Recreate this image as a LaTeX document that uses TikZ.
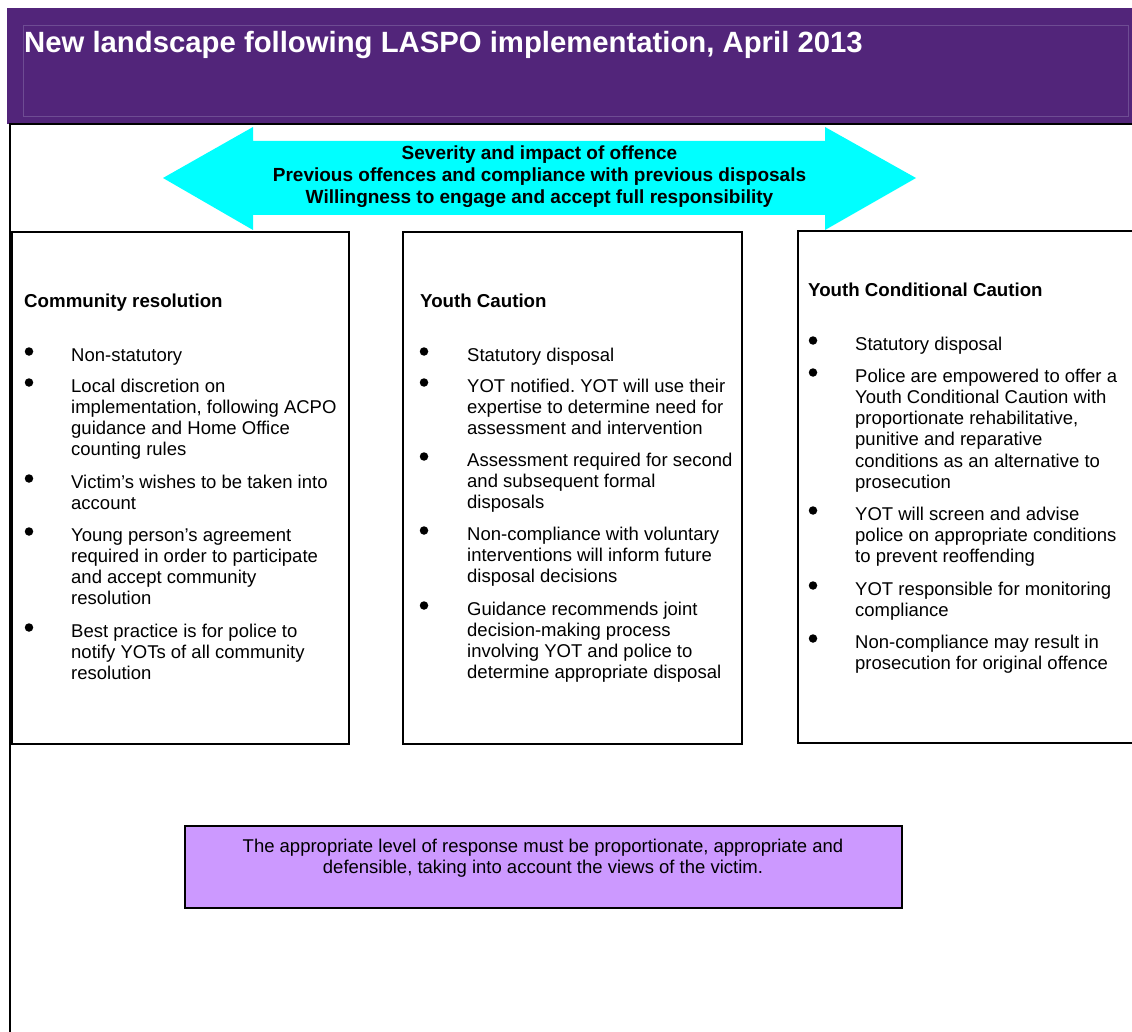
\documentclass[tikz,border=0pt]{standalone}
\usepackage{fontspec}
\setmainfont{Liberation Sans}
\frenchspacing
\definecolor{hdrpurple}{HTML}{52257A}
\definecolor{hdrline}{HTML}{6E4C93}
\definecolor{arrowcyan}{HTML}{00FFFF}
\definecolor{notelav}{HTML}{CC99FF}
\newcommand\txtbody{\fontsize{18.5}{21.3}\selectfont}
\newcommand\txthead{\fontsize{18.7}{21.3}\selectfont\bfseries}
\newcommand\txtarrow{\fontsize{19}{22}\selectfont\bfseries}
\newcommand\txttitle{\fontsize{29.3}{34}\selectfont\bfseries}
\tikzset{
  bulltext/.style={anchor=base west, inner sep=0pt, font=\txtbody},
  boxhead/.style={anchor=base west, inner sep=0pt, font=\txthead},
  bulldot/.style={circle, fill=black, inner sep=0pt, minimum size=8.5pt},
  panel/.style={draw=black, line width=1.6pt},
}
\begin{document}
\begin{tikzpicture}[x=1pt,y=-1pt]
\useasboundingbox (0,0) rectangle (1132,1032);
\fill[white] (0,0) rectangle (1132,1032);
% header
\fill[hdrpurple] (7,8) rectangle (1132,124);
\draw[hdrline, line width=0.8pt] (23,25) rectangle (1128,116);
\node[anchor=base west, inner sep=0pt, text=white, font=\txttitle] (title) at (24,53) {New landscape following LASPO implementation, April 2013};
% frame
\draw[black, line width=2pt] (10,1032) -- (10,124) -- (1132,124);
% arrow
\fill[arrowcyan] (163,178) -- (253,127) -- (253,141) -- (825,141) -- (825,127) -- (916,178) -- (825,230) -- (825,215) -- (253,215) -- (253,230) -- cycle;
\node[anchor=base, inner sep=0pt, font=\txtarrow] (arrowtxt) at (539.5,160) {\parbox[t]{700pt}{\centering Severity and impact of offence\\Previous offences and compliance with previous disposals\\Willingness to engage and accept full responsibility}};
% panels
\draw[panel] (12,232) rectangle (349,744);
\draw[panel] (403,232) rectangle (742,744);
\draw[panel] (1134,231) -- (798,231) -- (798,743) -- (1134,743);
% panel 1
\node[boxhead] (h1) at (24,308) {Community resolution};
\foreach \n/\yy in {1/361,2/392,3/488,4/541,5/637}{
  \node[bulldot] (b1\n) at (29,\yy-9.5) {};
}
\node[bulltext] (a1) at (71,361) {\parbox[t]{290pt}{\raggedright Non-statutory}};
\node[bulltext] (a2) at (71,392) {\parbox[t]{290pt}{\raggedright Local discretion on\\implementation, following ACPO\\guidance and Home Office\\counting rules}};
\node[bulltext] (a3) at (71,488) {\parbox[t]{290pt}{\raggedright Victim’s wishes to be taken into\\account}};
\node[bulltext] (a4) at (71,541) {\parbox[t]{290pt}{\raggedright Young person’s agreement\\required in order to participate\\and accept community\\resolution}};
\node[bulltext] (a5) at (71,637) {\parbox[t]{290pt}{\raggedright Best practice is for police to\\notify YOTs of all community\\resolution}};
% panel 2
\node[boxhead] (h2) at (420,308) {Youth Caution};
\foreach \n/\yy in {1/361,2/392,3/466,4/540,5/615}{
  \node[bulldot] (b2\n) at (424,\yy-9.5) {};
}
\node[bulltext] (c1) at (467,361) {\parbox[t]{290pt}{\raggedright Statutory disposal}};
\node[bulltext] (c2) at (467,392) {\parbox[t]{290pt}{\raggedright YOT notified. YOT will use their\\expertise to determine need for\\assessment and intervention}};
\node[bulltext] (c3) at (467,466) {\parbox[t]{290pt}{\raggedright Assessment required for second\\and subsequent formal\\disposals}};
\node[bulltext] (c4) at (467,540) {\parbox[t]{290pt}{\raggedright Non-compliance with voluntary\\interventions will inform future\\disposal decisions}};
\node[bulltext] (c5) at (467,615) {\parbox[t]{290pt}{\raggedright Guidance recommends joint\\decision-making process\\involving YOT and police to\\determine appropriate disposal}};
% panel 3
\node[boxhead] (h3) at (808,297) {Youth Conditional Caution};
\foreach \n/\yy in {1/350,2/382,3/520,4/595,5/648}{
  \node[bulldot] (b3\n) at (813,\yy-9.5) {};
}
\node[bulltext] (d1) at (855,350) {\parbox[t]{290pt}{\raggedright Statutory disposal}};
\node[bulltext] (d2) at (855,382) {\parbox[t]{290pt}{\raggedright Police are empowered to offer a\\Youth Conditional Caution with\\proportionate rehabilitative,\\punitive and reparative\\conditions as an alternative to\\prosecution}};
\node[bulltext] (d3) at (855,520) {\parbox[t]{290pt}{\raggedright YOT will screen and advise\\police on appropriate conditions\\to prevent reoffending}};
\node[bulltext] (d4) at (855,595) {\parbox[t]{290pt}{\raggedright YOT responsible for monitoring\\compliance}};
\node[bulltext] (d5) at (855,648) {\parbox[t]{290pt}{\raggedright Non-compliance may result in\\prosecution for original offence}};
% note
\draw[fill=notelav, draw=black, line width=1.5pt] (185,826) rectangle (902,908);
\node[anchor=base, inner sep=0pt, font=\txtbody] (note) at (543,852) {\parbox[t]{700pt}{\centering The appropriate level of response must be proportionate, appropriate and\\defensible, taking into account the views of the victim.}};
\end{tikzpicture}
\end{document}
